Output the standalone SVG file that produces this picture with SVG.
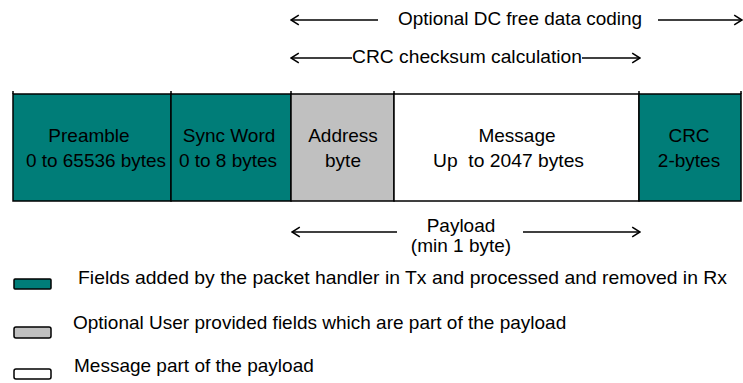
<svg xmlns="http://www.w3.org/2000/svg" width="743" height="383" viewBox="0 0 743 383">
<defs>
<style>
text{font-family:"Liberation Sans",Arial,sans-serif;font-size:19px;fill:#000}
.m{text-anchor:middle}
.teal{fill:#007d78;stroke:#000;stroke-width:1.5}
.gray{fill:#c0c0c0;stroke:#000;stroke-width:1.5}
.white{fill:#fff;stroke:#000;stroke-width:1.5}
.ln{stroke:#000;stroke-width:1.5;fill:none}
</style>
<marker id="ah" viewBox="0 0 10 10" refX="9" refY="5" markerWidth="12" markerHeight="12" markerUnits="userSpaceOnUse" orient="auto-start-reverse">
<path d="M2.5,1 L9,5 L2.5,9" fill="none" stroke="#000" stroke-width="1.3"/>
</marker>
</defs>
<rect width="743" height="383" fill="#fff"/>
<g id="connectors">
<line class="ln" x1="291" y1="20" x2="378" y2="20" marker-start="url(#ah)"/>
<line class="ln" x1="658" y1="20" x2="742" y2="20" marker-end="url(#ah)"/>
<line class="ln" x1="291" y1="58" x2="352" y2="58" marker-start="url(#ah)"/>
<line class="ln" x1="582" y1="58" x2="640" y2="58" marker-end="url(#ah)"/>
<line class="ln" x1="292" y1="232" x2="397" y2="232" marker-start="url(#ah)"/>
<line class="ln" x1="523" y1="232" x2="640" y2="232" marker-end="url(#ah)"/>
</g>
<g id="labels">
<text x="398" y="25" textLength="244" lengthAdjust="spacingAndGlyphs">Optional DC free data coding</text>
<text x="352" y="63" textLength="230" lengthAdjust="spacingAndGlyphs">CRC checksum calculation</text>
<text x="461" y="232" class="m">Payload</text>
<text x="461" y="252" class="m">(min 1 byte)</text>
</g>
<g id="preamble">
<rect class="teal" x="13" y="94" width="158" height="107"/>
<text x="89" y="142" class="m">Preamble</text>
<text x="96" y="167" class="m" textLength="140" lengthAdjust="spacingAndGlyphs">0 to 65536 bytes</text>
</g>
<g id="syncword">
<rect class="teal" x="171" y="94" width="120" height="107"/>
<text x="229" y="142" class="m">Sync Word</text>
<text x="228" y="167" class="m">0 to 8 bytes</text>
</g>
<g id="address">
<rect class="gray" x="291" y="94" width="103" height="107"/>
<text x="343" y="142" class="m">Address</text>
<text x="343" y="167" class="m">byte</text>
</g>
<g id="message">
<rect class="white" x="394" y="94" width="245" height="107"/>
<text x="517" y="142" class="m">Message</text>
<text x="433" y="167" xml:space="preserve" textLength="151" lengthAdjust="spacingAndGlyphs">Up  to 2047 bytes</text>
</g>
<g id="crc">
<rect class="teal" x="639" y="94" width="102" height="107"/>
<text x="689" y="142" class="m">CRC</text>
<text x="689" y="167" class="m">2-bytes</text>
</g>
<g id="ticks">
<path class="ln" d="M13,91V94 M171,91V94 M291,91V94 M394,91V94 M639,91V94 M741,91V94"/>
</g>
<g id="legend">
<rect class="teal" x="14" y="279" width="37" height="10" rx="1"/>
<text x="78" y="284" textLength="649" lengthAdjust="spacingAndGlyphs">Fields added by the packet handler in Tx and processed and removed in Rx</text>
<rect class="gray" x="14" y="327" width="37" height="11" rx="2"/>
<text x="73" y="329">Optional User provided fields which are part of the payload</text>
<rect class="white" x="14" y="369" width="37" height="10" rx="2"/>
<text x="74" y="372">Message part of the payload</text>
</g>
</svg>
